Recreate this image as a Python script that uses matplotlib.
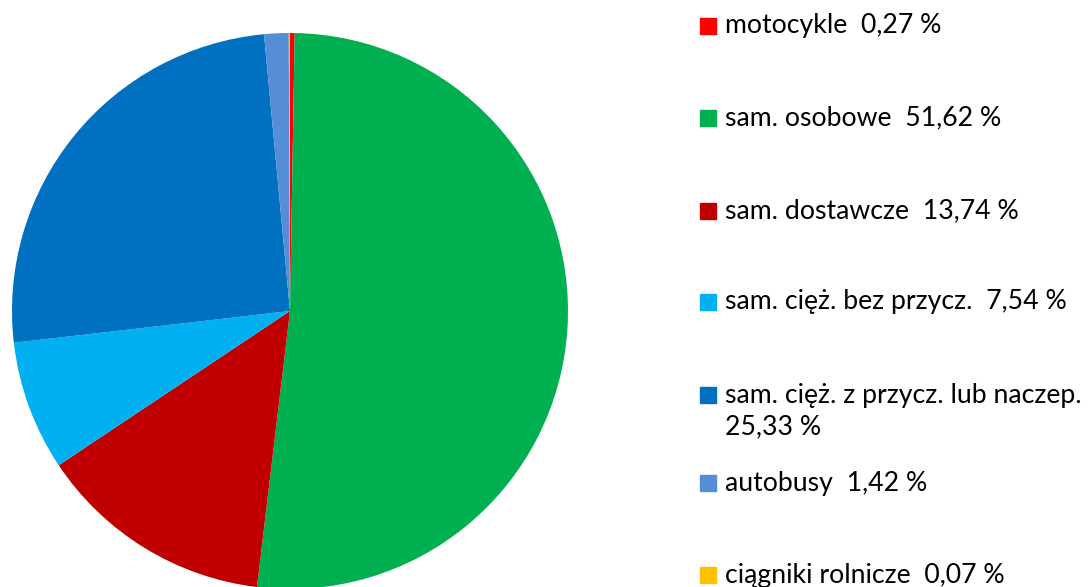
import matplotlib.pyplot as plt
from matplotlib.patches import Rectangle

labels = ["motocykle", "sam. osobowe", "sam. dostawcze", "sam. cięż. bez przycz.",
          "sam. cięż. z przycz. lub naczep.", "autobusy", "ciągniki rolnicze"]
values = [0.27, 51.62, 13.74, 7.54, 25.33, 1.42, 0.07]
value_txt = ["0,27 %", "51,62 %", "13,74 %", "7,54 %", "25,33 %", "1,42 %", "0,07 %"]
colors = ["#FF0000", "#00B050", "#C00000", "#00B0F0", "#0070C0", "#558ED5", "#FFC000"]

plt.rcParams['font.family'] = ['Lato', 'DejaVu Sans']

W, H = 1091, 587
fig = plt.figure(figsize=(W / 100, H / 100), dpi=100)

# pie axes, centre ~ (290, 311), radius ~278 px
r = 278
cx, cy = 290, 311
ax = fig.add_axes([(cx - r) / W, 1 - (cy + r) / H, 2 * r / W, 2 * r / H])
ax.pie(values, colors=colors, startangle=90, counterclock=False,
       wedgeprops=dict(linewidth=0))
ax.set_aspect('equal')
ax.set_xlim(-1, 1)
ax.set_ylim(-1, 1)

# legend drawn by hand, rows in pixel y of the first line
row_y = [26, 118, 211, 302, 395, 483, 575]
fs = 19.2
for lab, vt, col, yy in zip(labels, value_txt, colors, row_y):
    fig.patches.append(Rectangle((700 / W, 1 - (yy + 8) / H), 16 / W, 16 / H,
                                 transform=fig.transFigure, color=col))
    if lab.startswith("sam. cięż. z"):
        fig.text(725 / W, 1 - yy / H, lab, fontsize=fs, va='center', ha='left')
        fig.text(725 / W, 1 - (yy + 32) / H, vt, fontsize=fs, va='center', ha='left')
    else:
        fig.text(725 / W, 1 - yy / H, lab + "  " + vt, fontsize=fs, va='center', ha='left')

fig.savefig("out.png", dpi=100)
